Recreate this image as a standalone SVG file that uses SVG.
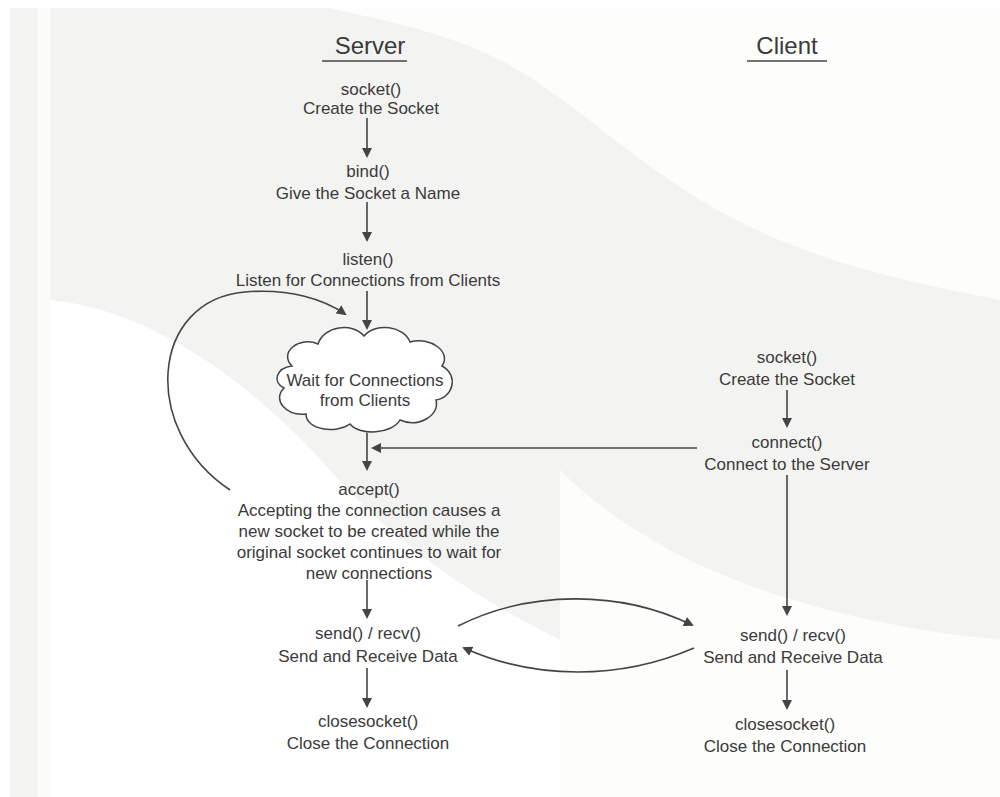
<svg xmlns="http://www.w3.org/2000/svg" width="1000" height="797" viewBox="0 0 1000 797">
<defs>
<style>
text{font-family:"Liberation Sans",Arial,sans-serif;fill:#3a3a3a;text-anchor:middle;font-size:17px}
.title{font-size:24px}
.ln{stroke:#444;stroke-width:1.6;fill:none}
.arr{stroke:#444;stroke-width:1.6;fill:none;marker-end:url(#ah)}
</style>
<marker id="ah" markerWidth="10" markerHeight="10" refX="8" refY="5" orient="auto" markerUnits="userSpaceOnUse" viewBox="0 0 10 10">
<path d="M0,0 L10,5 L0,10 z" fill="#444"/>
</marker>
</defs>
<rect width="1000" height="797" fill="#ffffff"/>
<g id="background">
<rect x="10" y="8" width="990" height="789" fill="#f3f4f1"/>
<rect x="37" y="8" width="14" height="789" fill="#fbfbf8"/>
<path d="M51,300 C150,310 250,380 330,470 C400,550 480,600 560,640 L560,797 H51 Z" fill="#ffffff"/>
<path d="M330,8 H1000 V300 C900,280 800,260 700,200 C620,150 560,90 500,60 C440,30 380,20 330,8 Z" fill="#fdfdfc"/>
<path d="M560,470 C650,560 800,620 1000,640 V797 H560 Z" fill="#fdfdfc"/>
</g>
<g id="connectors">
<line class="arr" x1="367" y1="118" x2="367" y2="156"/>
<line class="arr" x1="367" y1="202" x2="367" y2="240"/>
<line class="arr" x1="367" y1="291" x2="367" y2="328"/>
<line class="arr" x1="367" y1="433" x2="367" y2="469"/>
<line class="arr" x1="697" y1="448" x2="373" y2="448"/>
<path class="arr" d="M230,490 C140,430 150,300 245,292 C290,288 325,300 345,314"/>
<line class="arr" x1="367" y1="580" x2="367" y2="617"/>
<line class="arr" x1="367" y1="668" x2="367" y2="706"/>
<line class="arr" x1="787" y1="390" x2="787" y2="426"/>
<line class="arr" x1="787" y1="475" x2="787" y2="614"/>
<line class="arr" x1="787" y1="670" x2="787" y2="708"/>
<path class="arr" d="M458,626 C530,590 620,590 692,625"/>
<path class="arr" d="M694,648 C620,680 535,680 464,648"/>
</g>
<g id="titles">
<text class="title" x="370" y="54">Server</text>
<line class="ln" x1="322" y1="61" x2="407" y2="61" stroke-width="2"/>
<text class="title" x="787" y="54">Client</text>
<line class="ln" x1="747" y1="61" x2="827" y2="61" stroke-width="2"/>
</g>
<g id="s-socket"><text x="371" y="95">socket()</text><text x="371" y="114">Create the Socket</text></g>
<g id="s-bind"><text x="368" y="177">bind()</text><text x="368" y="199">Give the Socket a Name</text></g>
<g id="s-listen"><text x="368" y="265">listen()</text><text x="368" y="286">Listen for Connections from Clients</text></g>
<g id="s-wait">
<path d="M292,366 C278,352 300,336 318,344 C324,326 352,322 364,336 C376,322 404,326 410,342 C430,336 452,352 442,366 C460,376 452,398 436,400 C440,416 418,428 400,420 C392,434 360,436 350,424 C336,434 306,430 306,414 C286,416 272,400 284,388 C272,382 276,368 292,366 Z" fill="#ffffff" stroke="#444" stroke-width="1.5"/>
<text x="365" y="386">Wait for Connections</text><text x="365" y="406">from Clients</text>
</g>
<g id="s-accept">
<text x="369" y="495">accept()</text>
<text x="369" y="516">Accepting the connection causes a</text>
<text x="369" y="537">new socket to be created while the</text>
<text x="369" y="558">original socket continues to wait for</text>
<text x="369" y="579">new connections</text>
</g>
<g id="s-send"><text x="368" y="639">send() / recv()</text><text x="368" y="662">Send and Receive Data</text></g>
<g id="s-close"><text x="368" y="727">closesocket()</text><text x="368" y="749">Close the Connection</text></g>
<g id="c-socket"><text x="787" y="363">socket()</text><text x="787" y="385">Create the Socket</text></g>
<g id="c-connect"><text x="787" y="448">connect()</text><text x="787" y="470">Connect to the Server</text></g>
<g id="c-send"><text x="793" y="641">send() / recv()</text><text x="793" y="663">Send and Receive Data</text></g>
<g id="c-close"><text x="785" y="730">closesocket()</text><text x="785" y="752">Close the Connection</text></g>
</svg>
